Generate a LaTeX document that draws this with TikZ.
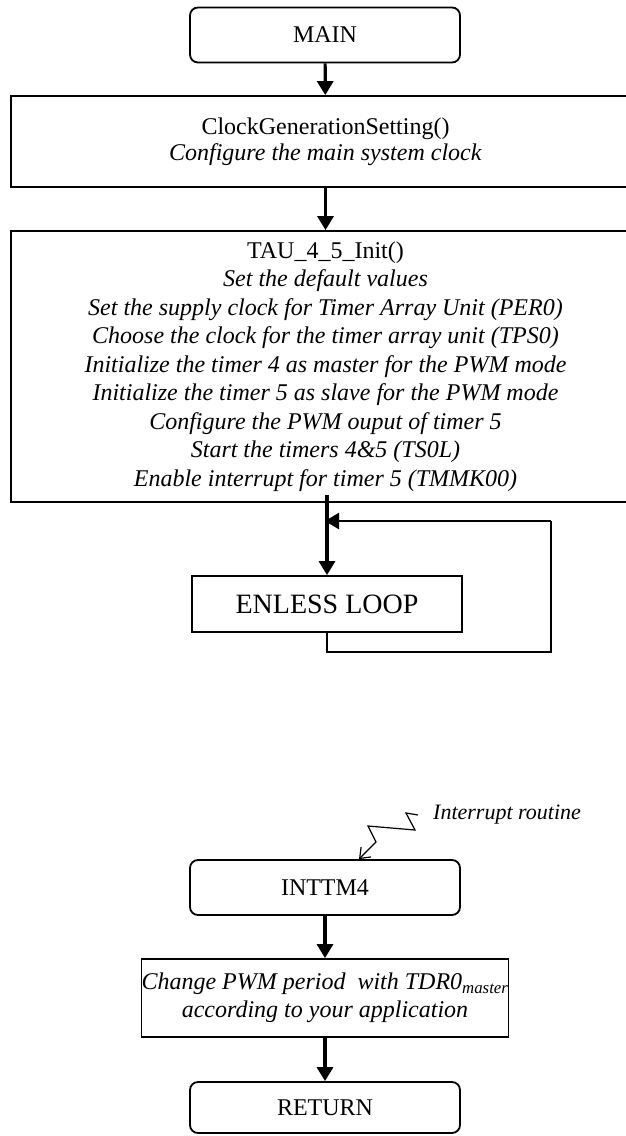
\documentclass[tikz,border=0pt]{standalone}
\usepackage{fontspec}
\setmainfont{Liberation Serif}
\usetikzlibrary{arrows.meta}

\begin{document}
\begin{tikzpicture}[x=1pt, y=-1pt,
 every node/.style={font=\fontsize{24}{28.5}\selectfont, align=center, inner sep=0pt},
 term/.style={draw, line width=1.8pt, rounded corners=8pt, minimum width=270pt, minimum height=55pt},
 proc/.style={draw, line width=1.8pt},
 flow/.style={line width=3.2pt, -{Triangle[length=14pt, width=16pt]}},
 loopline/.style={line width=2.2pt}]
 \useasboundingbox (0,0) rectangle (626,1136);
 \clip (0,0) rectangle (626,1136);

 %メインの流れ
 \node[term] (main) at (325, 35) {MAIN};
 \node[proc, minimum width=629pt, minimum height=91pt, font=\fontsize{24}{26}\selectfont] (clk) at (325.5, 141.5)
  {ClockGenerationSetting()\\ \textit{Configure the main system clock}};
 \node[proc, minimum width=629pt, minimum height=271pt] (tau) at (325.5, 366.5)
  {TAU\_4\_5\_Init()\\
   \textit{Set the default values}\\
   \textit{Set the supply clock for Timer Array Unit (PER0)}\\
   \textit{Choose the clock for the timer array unit (TPS0)}\\
   \textit{Initialize the timer 4 as master for the PWM mode}\\
   \textit{Initialize the timer 5 as slave for the PWM mode}\\
   \textit{Configure the PWM ouput of timer 5}\\
   \textit{Start the timers 4\&5 (TS0L)}\\
   \textit{Enable interrupt for timer 5 (TMMK00)}};
 \node[proc, minimum width=270pt, minimum height=56pt, font=\fontsize{28}{32}\selectfont] (loop) at (327, 604) {ENLESS LOOP};

 \coordinate (lpR) at (551, 652);
 \coordinate (lpT) at (551, 521);
 \coordinate (lpJ) at (325, 521);

 \draw[flow] (main) -- (clk);
 \draw[flow] (clk) -- (tau);
 \draw[flow, shorten <=-8pt] (tau.south -| loop.north) -- (loop.north);
 \draw[loopline] (loop.south) |- (lpR) -- (lpT);
 \draw[flow, line width=2.6pt] (lpT) -- (lpJ);

 %割り込み
 \node[font=\fontsize{22}{26}\selectfont\itshape, anchor=west] (irq) at (433, 815) {Interrupt routine};
 \node[term] (inttm) at (325, 887.5) {INTTM4};
 \node[proc, minimum width=326pt, minimum height=78pt] (chg) at (325, 998)
  {\textit{Change PWM period\ \ with TDR0\textsubscript{master}}\\ \textit{according to your application}};
 \node[term, minimum height=51pt] (ret) at (325, 1107.5) {RETURN};

 \draw[line width=1.2pt, -{Straight Barb[length=9pt, width=14pt]}]
  ([xshift=-15pt]irq.west) -- (406, 813) -- (415, 830) -- (368, 826) -- (376, 842) -- (inttm.north -| 359, 0);
 \draw[flow] (inttm) -- (chg);
 \draw[flow] (chg) -- (ret);
\end{tikzpicture}
\end{document}
